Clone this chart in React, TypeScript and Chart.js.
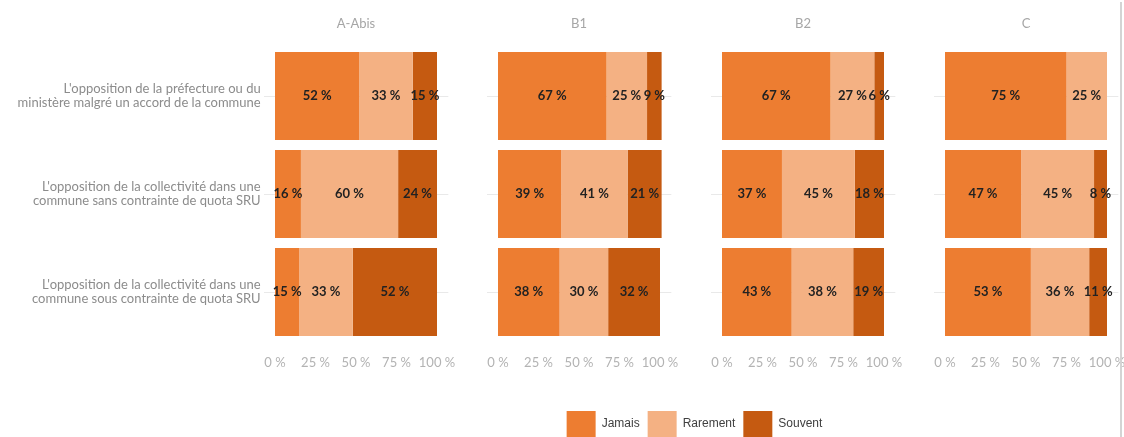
import React, { useEffect, useRef } from "react";
import { Chart, registerables } from "chart.js";

Chart.register(...registerables);

// ---------- data ----------
const panelTitles = ["A-Abis", "B1", "B2", "C"];
const categories = [
  ["L'opposition de la préfecture ou du", "ministère malgré un accord de la commune"],
  ["L'opposition de la collectivité dans une", "commune sans contrainte de quota SRU"],
  ["L'opposition de la collectivité dans une", "commune sous contrainte de quota SRU"],
];
const seriesNames = ["Jamais", "Rarement", "Souvent"];
const jamais = [
  [52, 16, 15],
  [67, 39, 38],
  [67, 37, 43],
  [75, 47, 53],
];
const rarement = [
  [33, 60, 33],
  [25, 41, 30],
  [27, 45, 38],
  [25, 45, 36],
];
const souvent = [
  [15, 24, 52],
  [9, 21, 32],
  [6, 18, 19],
  [0, 8, 11],
];
const xTickValues = [0, 25, 50, 75, 100];

// ---------- styles / layout ----------
const seriesColors = ["#ED7D31", "#F4B183", "#C55A11"];
const W = 1124;
const H = 437;
const panelLeft = [275, 498, 722, 945];
const panelWidth = 162;
const xMin = -7;
const xMax = 107;
const areaTop = 47;
const areaBottom = 341;
const xAxisHeight = 40;

const valueLabels = {
  id: "valueLabels",
  afterDatasetsDraw(chart: any) {
    const ctx = chart.ctx;
    ctx.save();
    ctx.font = "bold 13px Lato";
    ctx.fillStyle = "#222222";
    ctx.textAlign = "center";
    ctx.textBaseline = "middle";
    chart.data.datasets.forEach((ds: any, di: number) => {
      const meta = chart.getDatasetMeta(di);
      meta.data.forEach((el: any, j: number) => {
        const v = ds.data[j];
        if (!v) return;
        const p = el.getProps(["x", "base", "y"], true);
        ctx.fillText(v + " %", (p.x + p.base) / 2, p.y);
      });
    });
    ctx.restore();
  },
};

const panelTitle = {
  id: "panelTitle",
  afterDraw(chart: any, _args: any, opts: any) {
    const ctx = chart.ctx;
    const { left, right } = chart.chartArea;
    ctx.save();
    ctx.font = "13px Lato";
    ctx.fillStyle = "#a6a6a6";
    ctx.textAlign = "center";
    ctx.textBaseline = "middle";
    ctx.fillText(opts.text, (left + right) / 2, 24);
    ctx.restore();
  },
};

function Panel({ index }: { index: number }) {
  const ref = useRef<HTMLCanvasElement>(null);
  useEffect(() => {
    const ppu = panelWidth / 100;
    const L = panelLeft[index] + xMin * ppu;
    const R = panelLeft[index] + xMax * ppu;
    const series = [jamais, rarement, souvent];
    const chart = new Chart(ref.current!, {
      type: "bar",
      data: {
        labels: categories as any,
        datasets: seriesNames.map((name, si) => ({
          label: name,
          data: series[si][index],
          backgroundColor: seriesColors[si],
          borderWidth: 0,
          barPercentage: 0.9,
          categoryPercentage: 1,
        })),
      },
      plugins: [valueLabels, panelTitle],
      options: {
        animation: false,
        responsive: false,
        devicePixelRatio: 1,
        indexAxis: "y",
        layout: {
          padding: {
            left: index === 0 ? 0 : L,
            right: W - R,
            top: areaTop,
            bottom: H - areaBottom - xAxisHeight,
          },
        },
        plugins: {
          legend: { display: false },
          tooltip: { enabled: false },
          panelTitle: { text: panelTitles[index] },
        } as any,
        scales: {
          x: {
            stacked: true,
            min: xMin,
            max: xMax,
            afterBuildTicks: (s: any) => {
              s.ticks = xTickValues.map((v) => ({ value: v }));
            },
            afterFit: (s: any) => {
              s.height = xAxisHeight;
              s.paddingLeft = 0;
              s.paddingRight = 0;
            },
            grid: { display: false },
            border: { display: false },
            ticks: {
              color: "#b3b3b3",
              font: { family: "Lato", size: 13 },
              padding: 6,
              maxRotation: 0,
              autoSkip: false,
              callback: (v: any) => v + " %",
            },
          },
          y: {
            stacked: true,
            afterFit: (s: any) => {
              s.width = index === 0 ? L : 0;
              s.paddingTop = 0;
              s.paddingBottom = 0;
            },
            grid: { offset: false, color: "#e9e9e9", drawTicks: false, lineWidth: 1 },
            border: { display: false },
            ticks: {
              display: index === 0,
              color: "#8c8c8c",
              font: { family: "Lato", size: 13, lineHeight: 1.1 },
              padding: 3,
            },
          },
        },
      } as any,
    });
    return () => chart.destroy();
  }, [index]);
  return (
    <canvas
      ref={ref}
      width={W}
      height={H}
      style={{ position: "absolute", left: 0, top: 0, width: W, height: H }}
    />
  );
}

function LegendChart() {
  const ref = useRef<HTMLCanvasElement>(null);
  useEffect(() => {
    const chart = new Chart(ref.current!, {
      type: "bar",
      data: {
        labels: [],
        datasets: seriesNames.map((name, si) => ({
          label: name,
          data: [],
          backgroundColor: seriesColors[si],
          borderWidth: 0,
        })),
      },
      options: {
        animation: false,
        responsive: false,
        devicePixelRatio: 1,
        layout: { padding: { left: 265, right: 0, bottom: -10 } },
        scales: { x: { display: false }, y: { display: false } },
        plugins: {
          tooltip: { enabled: false },
          legend: {
            position: "bottom",
            labels: {
              boxWidth: 29,
              boxHeight: 26,
              padding: 8,
              color: "#404040",
              font: { family: "Liberation Sans", size: 12 },
            },
          },
        },
      } as any,
    });
    return () => chart.destroy();
  }, []);
  return (
    <canvas
      ref={ref}
      width={W}
      height={H}
      style={{ position: "absolute", left: 0, top: 0, width: W, height: H }}
    />
  );
}

export default function App() {
  return (
    <div
      style={{
        position: "absolute",
        left: 0,
        top: 0,
        width: W,
        height: H,
        background: "#ffffff",
        overflow: "hidden",
      }}
    >
      {panelTitles.map((_, i) => (
        <Panel key={i} index={i} />
      ))}
      <LegendChart />
      <div
        style={{
          position: "absolute",
          left: 1120,
          top: 2,
          width: 2,
          height: H - 2,
          background: "#d4d4d4",
        }}
      />
    </div>
  );
}
